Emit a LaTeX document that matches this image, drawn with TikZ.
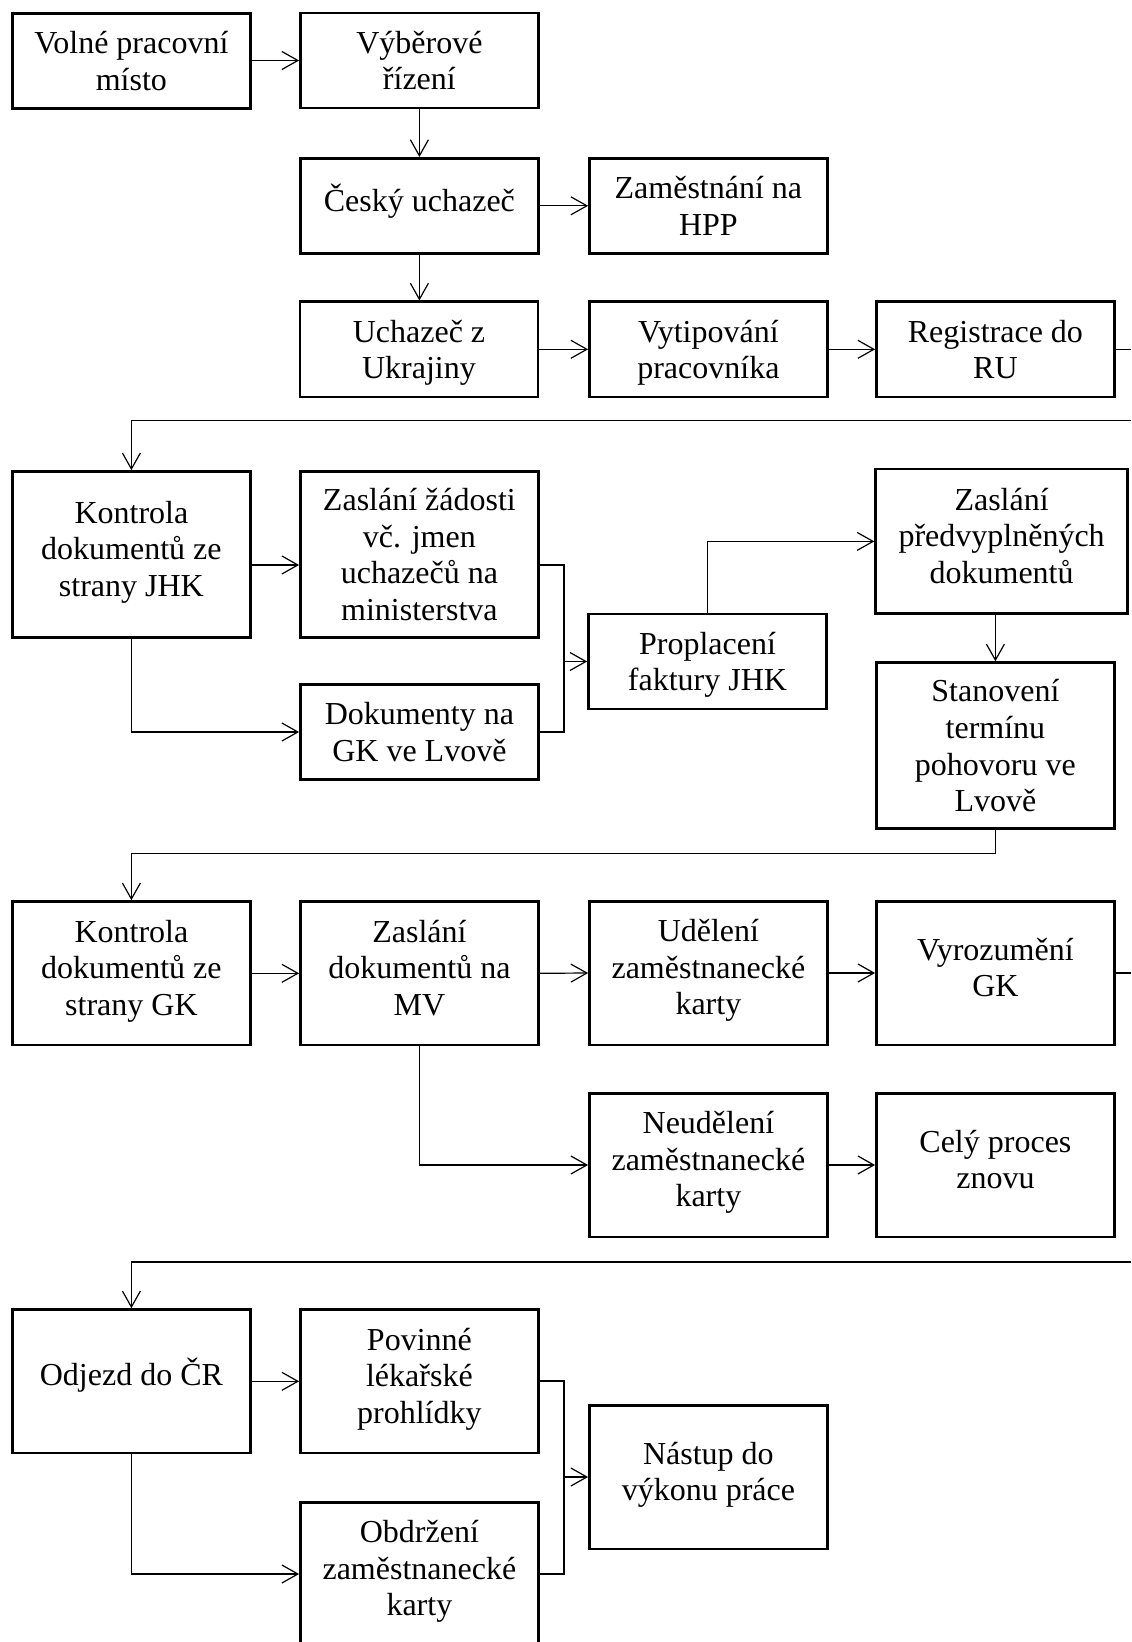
\documentclass[tikz,border=0pt]{standalone}
\usepackage{fontspec}
\setmainfont{Liberation Serif}
\usepackage{tikz}
\usetikzlibrary{arrows.meta,calc}

\begin{document}
\begin{tikzpicture}[x=0.5pt,y=-0.5pt,
    box/.style={draw, line width=1.3pt, minimum width=119pt, minimum height=47.5pt,
        inner sep=0pt, align=center, font=\fontsize{16}{18.3}\selectfont,
        execute at begin node={\rule{0pt}{19.2pt}}, text depth=0pt},
    lifted/.style={text depth=#1},
    lifted/.default=5.8pt,
    tallbox/.style={box, minimum height=83pt},
    midbox/.style={box, lifted, minimum height=71.8pt},
    line/.style={line width=0.6pt},
    arr/.style={line, -{Straight Barb[length=8pt,width=9pt]}}]
\useasboundingbox (0,0) rectangle (1131,1642);
\clip (0,0) rectangle (1131,1642);

\node[box] (volne) at (131.4,61) {Volné pracovní\\místo};
\node[box] (vyber) at (419.4,60.5) {Výběrové\\řízení};
\node[box, lifted=13pt] (cesky) at (419.4,205.8) {Český uchazeč};
\node[box] (hpp) at (708.4,205.8) {Zaměstnání na\\HPP};
\node[box] (ukrajina) at (419,349.3) {Uchazeč z\\Ukrajiny};
\node[box] (vytip) at (708.4,349.3) {Vytipování\\pracovníka};
\node[box] (registrace) at (995.4,349.3) {Registrace do\\RU};

\node[tallbox, lifted] (jhk) at (131.4,554.5) {Kontrola\\dokumentů ze\\strany JHK};
\node[tallbox] (zadost) at (419.4,554.5) {Zaslání žádosti\\vč. jmen\\uchazečů na\\ministerstva};
\node[box] (dokgk) at (419.4,732) {Dokumenty na\\GK ve Lvově};
\node[box] (proplac) at (707.5,661.5) {Proplacení\\faktury JHK};
\node[midbox, minimum width=126pt, minimum height=72.3pt] (predvypl) at (1001.6,541.4)
    {Zaslání\\předvyplněných\\dokumentů};
\node[tallbox] (stanov) at (995.4,745.6) {Stanovení\\termínu\\pohovoru ve\\Lvově};

\node[midbox] (kontrgk) at (131.4,973.3) {Kontrola\\dokumentů ze\\strany GK};
\node[midbox] (mv) at (419.4,973.3) {Zaslání\\dokumentů na\\MV};
\node[midbox] (udeleni) at (708.4,973) {Udělení\\zaměstnanecké\\karty};
\node[midbox] (vyrozum) at (995.4,973) {Vyrozumění\\GK};
\node[midbox] (neudeleni) at (708.4,1165) {Neudělení\\zaměstnanecké\\karty};
\node[midbox] (znovu) at (995.4,1165) {Celý proces\\znovu};

\node[midbox, lifted=15pt] (odjezd) at (131.4,1381.3) {Odjezd do ČR};
\node[midbox] (prohlidky) at (419.4,1381.3) {Povinné\\lékařské\\prohlídky};
\node[midbox] (nastup) at (708.4,1477) {Nástup do\\výkonu práce};
\node[midbox] (obdrzeni) at (419.4,1574) {Obdržení\\zaměstnanecké\\karty};

\coordinate (r1) at (1131,420.5);
\coordinate (b1) at (564,565);
\coordinate (r2) at (997,853.5);
\coordinate (r3) at (1131,973);
\coordinate (r4) at (1131,1262);
\coordinate (b2) at (564,1381);

\draw[arr] (volne.east |- vyber.west) -- (vyber.west);
\draw[arr] (vyber.south) -- (cesky.north);
\draw[arr] (cesky.east) -- (hpp.west);
\draw[arr] (cesky.south) -- (ukrajina.north -| cesky.south);
\draw[arr] (ukrajina.east) -- (vytip.west);
\draw[arr] (vytip.east) -- (registrace.west);
\draw[line] (registrace.east) -- (registrace.east -| r1);
\draw[arr] (r1) -- (r1 -| jhk.north) -- (jhk.north);

\draw[arr] (jhk.east |- b1) -- (zadost.west |- b1);
\draw[arr] (jhk.south) |- (dokgk.west);
\draw[line] (zadost.east |- b1) -- (b1) -- (b1 |- dokgk.east) -- (dokgk.east);
\draw[arr] (b1 |- proplac.west) -- (proplac.west);
\draw[arr] (proplac.north) |- (predvypl.west);
\draw[arr] (stanov.north |- predvypl.south) -- (stanov.north);
\draw[arr] (stanov.south) -- (stanov.south |- r2) -- (r2 -| kontrgk.north) -- (kontrgk.north);

\draw[arr] (kontrgk.east) -- (mv.west);
\draw[arr] (mv.east) -- (udeleni.west);
\draw[arr] (udeleni.east) -- (vyrozum.west);
\draw[line] (vyrozum.east) -- (r3);
\draw[arr] (mv.south) |- (neudeleni.west);
\draw[arr] (neudeleni.east) -- (znovu.west);
\draw[arr] (r4) -- (r4 -| odjezd.north) -- (odjezd.north);

\draw[arr] (odjezd.east) -- (prohlidky.west);
\draw[arr] (odjezd.south) |- (obdrzeni.west);
\draw[line] (prohlidky.east |- b2) -- (b2) -- (b2 |- obdrzeni.east) -- (obdrzeni.east);
\draw[arr] (b2 |- nastup.west) -- (nastup.west);
\end{tikzpicture}
\end{document}
